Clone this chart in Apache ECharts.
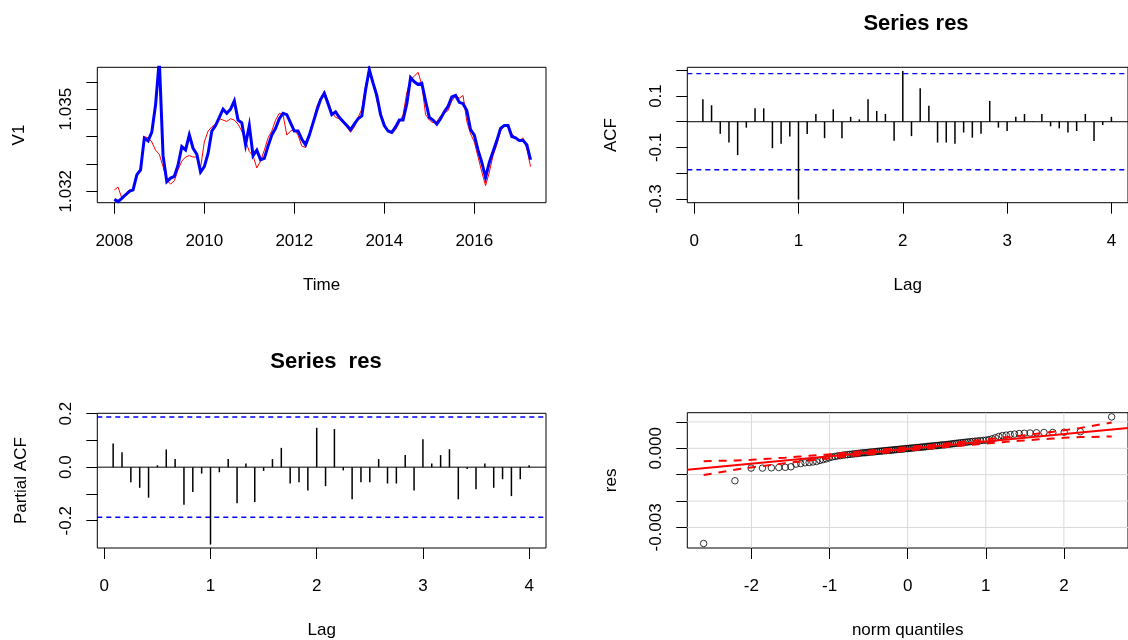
<!DOCTYPE html>
<html>
<head>
<meta charset="utf-8">
<script src="https://cdn.jsdelivr.net/npm/echarts@6/dist/echarts.min.js"></script>
<style>
  html, body { margin: 0; padding: 0; background: #fff; }
  #chart { width: 1128px; height: 640px; }
</style>
</head>
<body>
<div id="chart"></div>
<script>
// ---- data -----------------------------------------------------------------
// Monthly series, Jan 2008 .. Apr 2017 (frequency 12)
const startYear = 2008;
const monthsPerYear = 12;

const observed = [
  1.03205, 1.03215, 1.03175, 1.03190, 1.03205, 1.03205, 1.03260, 1.03280, 1.03400, 1.03395,
  1.03380, 1.03350, 1.03335, 1.03290, 1.03240, 1.03226, 1.03238, 1.03278, 1.03310, 1.03325,
  1.03330, 1.03325, 1.03325, 1.03285, 1.03380, 1.03420, 1.03435, 1.03445, 1.03465, 1.03460,
  1.03455, 1.03465, 1.03460, 1.03445, 1.03420, 1.03385, 1.03345, 1.03330, 1.03285, 1.03310,
  1.03350, 1.03395, 1.03420, 1.03460, 1.03485, 1.03480, 1.03405, 1.03420, 1.03425, 1.03405,
  1.03365, 1.03360, 1.03400, 1.03450, 1.03510, 1.03540, 1.03565, 1.03530, 1.03490, 1.03470,
  1.03465, 1.03450, 1.03435, 1.03415, 1.03435, 1.03470, 1.03500, 1.03585, 1.03630, 1.03605,
  1.03530, 1.03490, 1.03445, 1.03420, 1.03410, 1.03425, 1.03450, 1.03480, 1.03560, 1.03610,
  1.03620, 1.03635, 1.03590, 1.03480, 1.03460, 1.03450, 1.03455, 1.03475, 1.03485, 1.03495,
  1.03530, 1.03550, 1.03540, 1.03550, 1.03455, 1.03410, 1.03380, 1.03325, 1.03270, 1.03220,
  1.03270, 1.03330, 1.03370, 1.03420, 1.03440, 1.03445, 1.03410, 1.03395, 1.03385, 1.03395,
  1.03355, 1.03290
];

const fitted = [
  1.03170, 1.03162, 1.03174, 1.03187, 1.03199, 1.03205, 1.03260, 1.03278, 1.03394, 1.03384,
  1.03416, 1.03516, 1.03680, 1.03330, 1.03235, 1.03248, 1.03254, 1.03296, 1.03363, 1.03351,
  1.03406, 1.03357, 1.03335, 1.03270, 1.03290, 1.03338, 1.03420, 1.03440, 1.03470, 1.03500,
  1.03485, 1.03500, 1.03530, 1.03460, 1.03450, 1.03370, 1.03440, 1.03330, 1.03350, 1.03315,
  1.03320, 1.03365, 1.03405, 1.03430, 1.03465, 1.03485, 1.03480, 1.03450, 1.03420, 1.03420,
  1.03390, 1.03370, 1.03405, 1.03450, 1.03495, 1.03535, 1.03558, 1.03520, 1.03480, 1.03490,
  1.03470, 1.03455, 1.03440, 1.03425, 1.03445, 1.03465, 1.03475, 1.03570, 1.03645, 1.03595,
  1.03550, 1.03480, 1.03440, 1.03420, 1.03415, 1.03435, 1.03460, 1.03460, 1.03520, 1.03615,
  1.03600, 1.03590, 1.03595, 1.03530, 1.03470, 1.03460, 1.03445, 1.03465, 1.03490, 1.03510,
  1.03545, 1.03550, 1.03525, 1.03520, 1.03495, 1.03425, 1.03405, 1.03350, 1.03305, 1.03250,
  1.03305, 1.03345, 1.03385, 1.03430, 1.03440, 1.03440, 1.03400, 1.03395, 1.03385, 1.03385,
  1.03370, 1.03315
];

// autocorrelations of the residuals, lags 1..48 months
const acfValues = [
   0.087,  0.064, -0.047, -0.081, -0.130, -0.023,  0.052,  0.052, -0.103, -0.086, -0.057, -0.303,
  -0.048,  0.030, -0.064,  0.048, -0.064,  0.019,  0.009,  0.087,  0.042,  0.030, -0.074,  0.197,
  -0.056,  0.130,  0.062, -0.081, -0.081, -0.086, -0.042, -0.062, -0.047,  0.081, -0.023, -0.036,
   0.019,  0.030,  0.002,  0.030, -0.018, -0.026, -0.042, -0.036,  0.030, -0.075, -0.013,  0.019
];

// partial autocorrelations, lags 1..48 months
const pacfValues = [
   0.088,  0.056, -0.056, -0.077, -0.114,  0.007,  0.066,  0.030, -0.140, -0.093, -0.024, -0.289,
  -0.019,  0.030, -0.135,  0.014, -0.130, -0.014,  0.030,  0.072, -0.061, -0.056, -0.087,  0.147,
  -0.071,  0.142, -0.012, -0.120, -0.056, -0.056,  0.030, -0.061, -0.061,  0.045, -0.087,  0.104,
   0.014,  0.045,  0.067, -0.120, -0.007, -0.082,  0.014, -0.077, -0.045, -0.108, -0.045,  0.007
];

// sorted residuals
const residuals = [
  -0.00361, -0.00123, -0.00075, -0.00075, -0.00074, -0.00073, -0.00072, -0.00070, -0.00060, -0.00058,
  -0.00055, -0.00054, -0.00052, -0.00050, -0.00046, -0.00043, -0.00040, -0.00036, -0.00033, -0.00031,
  -0.00029, -0.00028, -0.00026, -0.00025, -0.00024, -0.00023, -0.00022, -0.00021, -0.00020, -0.00019,
  -0.00018, -0.00017, -0.00017, -0.00016, -0.00015, -0.00014, -0.00014, -0.00013, -0.00012, -0.00011,
  -0.00011, -0.00010, -0.00009, -0.00009, -0.00008, -0.00007, -0.00007, -0.00006, -0.00005, -0.00005,
  -0.00004, -0.00003, -0.00003, -0.00002, -0.00001, -0.00001,  0.00000,  0.00001,  0.00001,  0.00002,
   0.00003,  0.00003,  0.00004,  0.00005,  0.00005,  0.00006,  0.00007,  0.00008,  0.00008,  0.00009,
   0.00010,  0.00010,  0.00011,  0.00012,  0.00013,  0.00013,  0.00014,  0.00015,  0.00016,  0.00017,
   0.00018,  0.00019,  0.00020,  0.00021,  0.00022,  0.00023,  0.00024,  0.00025,  0.00026,  0.00027,
   0.00028,  0.00029,  0.00030,  0.00031,  0.00033,  0.00036,  0.00040,  0.00045,  0.00048,  0.00050,
   0.00052,  0.00054,  0.00056,  0.00057,  0.00058,  0.00059,  0.00060,  0.00060,  0.00061,  0.00063,
   0.00119
];

const ciBound = 0.187;          // 95% white-noise bound
const qqIntercept = -0.00002;   // reference line through the quartiles
const qqSlope = 0.00028;
const envelopeLevel = 0.95;

// tick values and labelled ticks
const yearTicks = [2008, 2010, 2012, 2014, 2016];
const v1Ticks = [1.032, 1.033, 1.034, 1.035, 1.036];
const v1Labels = [1.032, 1.035];
const lagTicks = [0, 1, 2, 3, 4];
const acfTicks = [-0.3, -0.2, -0.1, 0, 0.1, 0.2];
const acfLabels = [-0.3, -0.1, 0.1];
const pacfTicks = [-0.2, -0.1, 0, 0.1, 0.2];
const pacfLabels = [-0.2, 0, 0.2];
const quantileTicks = [-2, -1, 0, 1, 2];
const resTicks = [-0.003, -0.002, -0.001, 0, 0.001];
const resLabels = [-0.003, 0];

// ---- helpers ----------------------------------------------------------------
function qnorm(p) {
  const a = [-3.969683028665376e+01, 2.209460984245205e+02, -2.759285104469687e+02,
             1.383577518672690e+02, -3.066479806614716e+01, 2.506628277459239e+00];
  const b = [-5.447609879822406e+01, 1.615858368580409e+02, -1.556989798598866e+02,
             6.680131188771972e+01, -1.328068155288572e+01];
  const c = [-7.784894002430293e-03, -3.223964580411365e-01, -2.400758277161838e+00,
             -2.549732539343734e+00, 4.374664141464968e+00, 2.938163982698783e+00];
  const d = [7.784695709041462e-03, 3.224671290700398e-01, 2.445134137142996e+00,
             3.754408661907416e+00];
  const pl = 0.02425;
  if (p < pl) {
    const q = Math.sqrt(-2 * Math.log(p));
    return (((((c[0]*q+c[1])*q+c[2])*q+c[3])*q+c[4])*q+c[5]) / ((((d[0]*q+d[1])*q+d[2])*q+d[3])*q+1);
  }
  if (p > 1 - pl) {
    const q = Math.sqrt(-2 * Math.log(1 - p));
    return -(((((c[0]*q+c[1])*q+c[2])*q+c[3])*q+c[4])*q+c[5]) / ((((d[0]*q+d[1])*q+d[2])*q+d[3])*q+1);
  }
  const q = p - 0.5, r = q * q;
  return (((((a[0]*r+a[1])*r+a[2])*r+a[3])*r+a[4])*r+a[5])*q /
         (((((b[0]*r+b[1])*r+b[2])*r+b[3])*r+b[4])*r+1);
}
function dnorm(z) { return Math.exp(-z * z / 2) / Math.sqrt(2 * Math.PI); }

const timeOf = i => startYear + i / monthsPerYear;
const lagOf = i => (i + 1) / monthsPerYear;

const observedData = observed.map((v, i) => [timeOf(i), v]);
const fittedData = fitted.map((v, i) => [timeOf(i), v]);
const acfData = acfValues.map((v, i) => [lagOf(i), v]);
const pacfData = pacfValues.map((v, i) => [lagOf(i), v]);

const n = residuals.length;
const probs = residuals.map((_, i) => (i + 0.5) / n);
const quantiles = probs.map(qnorm);
const qqPoints = residuals.map((r, i) => [quantiles[i], r]);
const zCrit = qnorm(1 - (1 - envelopeLevel) / 2);
const envUpper = quantiles.map((z, i) => {
  const se = qqSlope / dnorm(z) * Math.sqrt(probs[i] * (1 - probs[i]) / n);
  return [z, qqIntercept + qqSlope * z + zCrit * se];
});
const envLower = quantiles.map((z, i) => {
  const se = qqSlope / dnorm(z) * Math.sqrt(probs[i] * (1 - probs[i]) / n);
  return [z, qqIntercept + qqSlope * z - zCrit * se];
});

// ---- axis ranges ------------------------------------------------------------
const timeRange = [2007.622, 2017.593];
const v1Range = [1.03158, 1.03653];
const lagRange = [-0.066, 4.159];
const acfRange = [-0.315, 0.2117];
const pacfRange = [-0.3017, 0.201];
const qRange = [-2.821, 2.821];
const resRange = [-0.00378, 0.00135];

// ---- styling ----------------------------------------------------------------
const FONT = '"Liberation Sans", Arial, sans-serif';
const INK = '#000';
const axisText = { fontFamily: FONT, fontSize: 17, color: INK };
const titleText = { fontFamily: FONT, fontSize: 22, fontWeight: 'bold', color: INK };

function makeAxis(o) {
  return {
    type: 'value',
    gridIndex: o.grid,
    min: o.range[0],
    max: o.range[1],
    name: o.name,
    nameLocation: 'middle',
    nameGap: o.nameGap,
    nameTextStyle: axisText,
    axisLine: { show: false, onZero: false },
    axisTick: { show: true, inside: false, length: 11,
                lineStyle: { color: INK, width: 1 }, customValues: o.ticks },
    axisLabel: Object.assign({ show: true, customValues: o.labels, formatter: o.fmt,
                               margin: o.margin, rotate: o.rotate || 0 }, axisText),
    splitLine: { show: false }
  };
}

const gridBox = { show: true, borderColor: INK, borderWidth: 1, backgroundColor: 'transparent' };

const fmtInt = v => String(Math.round(v));
const fmt1 = v => v.toFixed(1);
const fmt3 = v => v.toFixed(3);

// horizontal reference lines (zero line and ±bound) for a correlogram panel
function correlogramLines(axisIndex) {
  const hline = (y, style) => ({
    type: 'line', xAxisIndex: axisIndex, yAxisIndex: axisIndex, silent: true,
    showSymbol: false, z: 2, lineStyle: style,
    data: [[lagRange[0], y], [lagRange[1], y]]
  });
  const dashed = { color: '#0000ff', width: 1.4, type: [5, 4] };
  return [
    hline(0, { color: INK, width: 1, type: 'solid' }),
    hline(ciBound, dashed),
    hline(-ciBound, dashed)
  ];
}

// light grid for the quantile panel
const qqGridSeries = [];
quantileTicks.forEach(t => qqGridSeries.push({
  type: 'line', xAxisIndex: 3, yAxisIndex: 3, silent: true, showSymbol: false, z: 1,
  lineStyle: { color: '#d9d9d9', width: 1 },
  data: [[t, resRange[0]], [t, resRange[1]]]
}));
resTicks.forEach(t => qqGridSeries.push({
  type: 'line', xAxisIndex: 3, yAxisIndex: 3, silent: true, showSymbol: false, z: 1,
  lineStyle: { color: '#d9d9d9', width: 1 },
  data: [[qRange[0], t], [qRange[1], t]]
}));

const option = {
  animation: false,
  backgroundColor: '#fff',
  title: [
    { text: 'Series res', left: 911, top: 8, textAlign: 'center', textStyle: titleText },
    { text: 'Series  res', left: 321, top: 346, textAlign: 'center', textStyle: titleText }
  ],
  grid: [
    Object.assign({ left: 97.3, top: 67.3, width: 448.7, height: 135.4 }, gridBox),
    Object.assign({ left: 687.3, top: 67.3, width: 448.7, height: 135.4 }, gridBox),
    Object.assign({ left: 97.3, top: 413.3, width: 448.7, height: 135 }, gridBox),
    Object.assign({ left: 687.3, top: 412.7, width: 447.4, height: 135.6 }, gridBox)
  ],
  xAxis: [
    makeAxis({ grid: 0, range: timeRange, ticks: yearTicks, labels: yearTicks, fmt: fmtInt,
               name: 'Time', nameGap: 74, margin: 30 }),
    makeAxis({ grid: 1, range: lagRange, ticks: lagTicks, labels: lagTicks, fmt: fmtInt,
               name: 'Lag', nameGap: 74, margin: 30 }),
    makeAxis({ grid: 2, range: lagRange, ticks: lagTicks, labels: lagTicks, fmt: fmtInt,
               name: 'Lag', nameGap: 74, margin: 30 }),
    makeAxis({ grid: 3, range: qRange, ticks: quantileTicks, labels: quantileTicks, fmt: fmtInt,
               name: 'norm quantiles', nameGap: 74, margin: 30 })
  ],
  yAxis: [
    makeAxis({ grid: 0, range: v1Range, ticks: v1Ticks, labels: v1Labels, fmt: fmt3,
               name: 'V1', nameGap: 69, margin: 22, rotate: 90 }),
    makeAxis({ grid: 1, range: acfRange, ticks: acfTicks, labels: acfLabels, fmt: fmt1,
               name: 'ACF', nameGap: 67, margin: 22, rotate: 90 }),
    makeAxis({ grid: 2, range: pacfRange, ticks: pacfTicks, labels: pacfLabels, fmt: fmt1,
               name: 'Partial ACF', nameGap: 67, margin: 22, rotate: 90 }),
    makeAxis({ grid: 3, range: resRange, ticks: resTicks, labels: resLabels, fmt: fmt3,
               name: 'res', nameGap: 67, margin: 22, rotate: 90 })
  ],
  series: [
    {
      name: 'observed', type: 'line', xAxisIndex: 0, yAxisIndex: 0, z: 2,
      showSymbol: false, silent: true, clip: true,
      lineStyle: { color: '#ff0000', width: 1 },
      data: observedData
    },
    {
      name: 'fitted', type: 'line', xAxisIndex: 0, yAxisIndex: 0, z: 3,
      showSymbol: false, silent: true, clip: true,
      lineStyle: { color: '#0000ff', width: 3, join: 'miter' },
      data: fittedData
    },
    {
      name: 'ACF', type: 'bar', xAxisIndex: 1, yAxisIndex: 1, barWidth: 1.5, z: 3,
      silent: true, itemStyle: { color: INK },
      data: acfData
    },
    ...correlogramLines(1),
    {
      name: 'PACF', type: 'bar', xAxisIndex: 2, yAxisIndex: 2, barWidth: 1.5, z: 3,
      silent: true, itemStyle: { color: INK },
      data: pacfData
    },
    ...correlogramLines(2),
    ...qqGridSeries,
    {
      name: 'res', type: 'scatter', xAxisIndex: 3, yAxisIndex: 3, z: 3, silent: true,
      symbol: 'circle', symbolSize: 6.5,
      itemStyle: { color: 'rgba(0,0,0,0)', borderColor: INK, borderWidth: 1 },
      data: qqPoints
    },
    {
      name: 'reference', type: 'line', xAxisIndex: 3, yAxisIndex: 3, z: 4, silent: true,
      showSymbol: false, lineStyle: { color: '#ff0000', width: 2 },
      data: qRange.map(x => [x, qqIntercept + qqSlope * x])
    },
    {
      name: 'upper', type: 'line', xAxisIndex: 3, yAxisIndex: 3, z: 4, silent: true,
      showSymbol: false, lineStyle: { color: '#ff0000', width: 2, type: [8, 7] },
      data: envUpper
    },
    {
      name: 'lower', type: 'line', xAxisIndex: 3, yAxisIndex: 3, z: 4, silent: true,
      showSymbol: false, lineStyle: { color: '#ff0000', width: 2, type: [8, 7] },
      data: envLower
    }
  ]
};

const chart = echarts.init(document.getElementById('chart'), null, { renderer: 'canvas' });
chart.setOption(option);
</script>
</body>
</html>
